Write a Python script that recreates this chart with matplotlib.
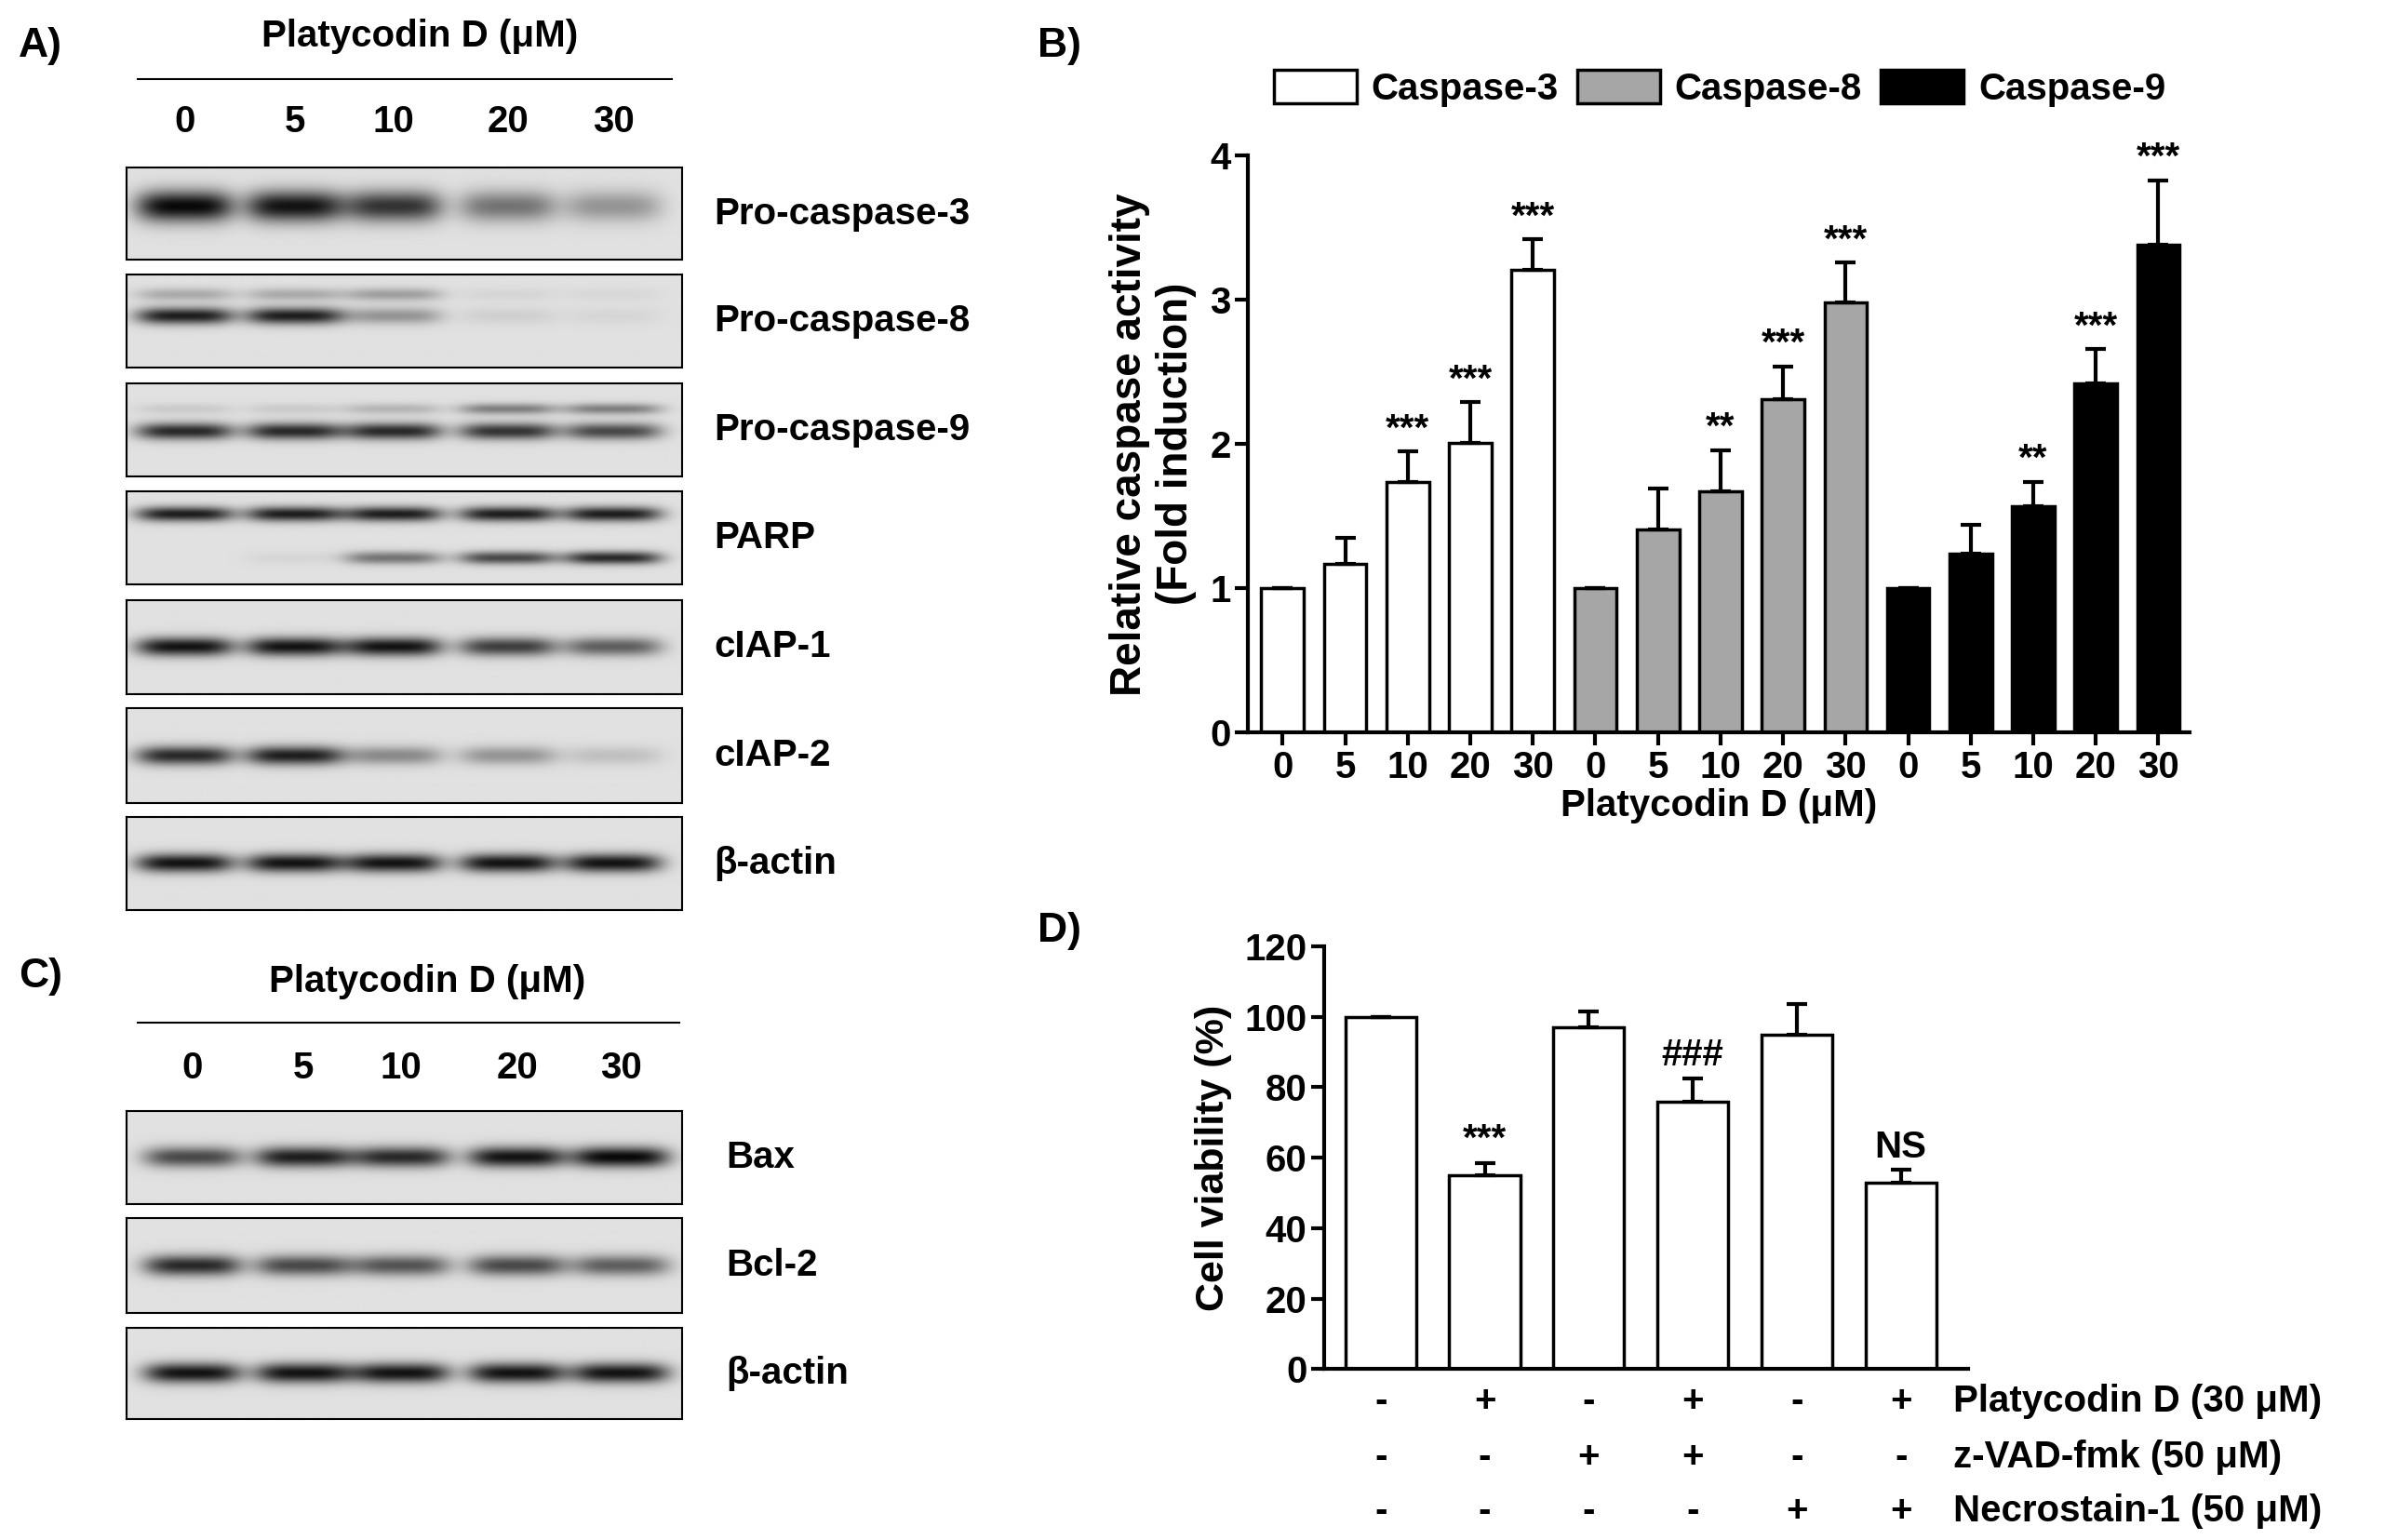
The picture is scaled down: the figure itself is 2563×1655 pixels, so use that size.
import numpy as np
import matplotlib
matplotlib.use("Agg")
import matplotlib.pyplot as plt

plt.rcParams['font.family'] = ['Liberation Sans', 'DejaVu Sans']
plt.rcParams['font.weight'] = 'bold'
plt.rcParams['axes.labelweight'] = 'bold'

W, H = 1563.0, 1009.0
def fx(x): return x / W
def fy(y): return 1 - y / H

FS = 29

# ---- data ----
doses = ['0', '5', '10', '20', '30']
# blot rows: (label, [(ypos, intensities, thickness), ...])
blotsA = [
    ('Pro-caspase-3', [(0.58, [1.0, 0.95, 0.8, 0.5, 0.35], 0.17)]),
    ('Pro-caspase-8', [(0.55, [0.9, 0.9, 0.35, 0.08, 0.05], 0.09),
                       (0.78, [0.25, 0.25, 0.3, 0.05, 0.04], 0.07)]),
    ('Pro-caspase-9', [(0.48, [0.85, 0.85, 0.85, 0.8, 0.7], 0.09),
                       (0.72, [0.1, 0.1, 0.2, 0.45, 0.45], 0.06)]),
    ('PARP', [(0.75, [0.9, 0.9, 0.9, 0.9, 0.9], 0.08),
              (0.28, [0.0, 0.05, 0.5, 0.7, 0.85], 0.07)]),
    ('cIAP-1', [(0.5, [0.95, 0.95, 0.95, 0.75, 0.6], 0.1)]),
    ('cIAP-2', [(0.5, [0.85, 0.9, 0.4, 0.35, 0.15], 0.1)]),
    ('β-actin', [(0.5, [0.95, 0.95, 0.95, 0.95, 0.95], 0.1)]),
]
blotsC = [
    ('Bax', [(0.5, [0.7, 0.9, 0.85, 0.95, 1.0], 0.11)]),
    ('Bcl-2', [(0.5, [0.85, 0.7, 0.65, 0.7, 0.6], 0.11)]),
    ('β-actin', [(0.5, [0.95, 0.95, 0.95, 0.95, 0.95], 0.11)]),
]

casp3 = [1.0, 1.17, 1.74, 2.01, 3.21]
casp3_err = [0, 0.18, 0.21, 0.28, 0.21]
casp8 = [1.0, 1.41, 1.67, 2.31, 2.98]
casp8_err = [0, 0.28, 0.29, 0.23, 0.28]
casp9 = [1.0, 1.24, 1.57, 2.42, 3.38]
casp9_err = [0, 0.2, 0.17, 0.24, 0.45]
stars3 = ['', '', '***', '***', '***']
stars8 = ['', '', '**', '***', '***']
stars9 = ['', '', '**', '***', '***']

viab = [100, 55, 97, 76, 95, 53]
viab_err = [0, 3.5, 4.5, 6.5, 8.5, 3.5]
viab_marks = ['', '***', '', '###', '', 'NS']
pd_row = ['-', '+', '-', '+', '-', '+']
zvad_row = ['-', '-', '+', '+', '-', '-']
nec_row = ['-', '-', '-', '-', '+', '+']
row_labels = ['Platycodin D (30 μM)', 'z-VAD-fmk (50 μM)', 'Necrostain-1 (50 μM)']

fig = plt.figure(figsize=(25.63, 16.55), dpi=100)

def draw_blot(x0, x1, y0, y1, lanes_px, bands):
    ax = fig.add_axes([fx(x0), fy(y1), fx(x1) - fx(x0), fy(y0) - fy(y1)])
    xs = np.linspace(x0, x1, 400)
    ys = np.linspace(0, 1, 120)
    X, Y = np.meshgrid(xs, ys)
    img = np.zeros_like(X)
    for ypos, ints, th in bands:
        for lx, v in zip(lanes_px, ints):
            img += v * np.exp(-((X - lx) / 32.0) ** 4) * np.exp(-((Y - ypos) / th) ** 2)
    img = 0.88 - 0.85 * np.clip(img, 0, 1)
    ax.imshow(img, cmap='gray', vmin=0, vmax=1, aspect='auto', origin='lower',
              extent=[x0, x1, 0, 1])
    ax.set_xticks([]); ax.set_yticks([])
    for s in ax.spines.values():
        s.set_linewidth(1.5)
    return ax

# ---- Panel A ----
lanesA = [121, 193, 258, 333, 402]
rowsA = [(110, 170), (180, 241), (251, 312), (322, 383), (393, 455), (464, 526), (535, 596)]
for (label, bands), (y0, y1) in zip(blotsA, rowsA):
    draw_blot(83, 447, y0, y1, lanesA, bands)
    fig.text(fx(468), fy((y0 + y1) / 2), label, fontsize=FS, va='center', ha='left')
for lx, d in zip(lanesA, doses):
    fig.text(fx(lx), fy(80), d, fontsize=FS, ha='center', va='center')
fig.text(fx(275), fy(24), 'Platycodin D (μM)', fontsize=FS, ha='center', va='center')
fig.add_artist(plt.Line2D([fx(90), fx(440)], [fy(52), fy(52)], color='black', lw=1.5))
fig.text(fx(12), fy(30), 'A)', fontsize=32, ha='left', va='center')

# ---- Panel C ----
lanesC = [126, 199, 263, 339, 407]
rowsC = [(728, 789), (798, 860), (870, 930)]
for (label, bands), (y0, y1) in zip(blotsC, rowsC):
    draw_blot(83, 447, y0, y1, lanesC, bands)
    fig.text(fx(476), fy((y0 + y1) / 2), label, fontsize=FS, va='center', ha='left')
for lx, d in zip(lanesC, doses):
    fig.text(fx(lx), fy(700), d, fontsize=FS, ha='center', va='center')
fig.text(fx(280), fy(643), 'Platycodin D (μM)', fontsize=FS, ha='center', va='center')
fig.add_artist(plt.Line2D([fx(90), fx(445)], [fy(670), fy(670)], color='black', lw=1.5))
fig.text(fx(12), fy(640), 'C)', fontsize=32, ha='left', va='center')

# ---- Panel B ----
axB = fig.add_axes([fx(818), fy(480), fx(1435) - fx(818), fy(102) - fy(480)])
groups = [(casp3, casp3_err, stars3, 'white', 'Caspase-3'),
          (casp8, casp8_err, stars8, '#a6a6a6', 'Caspase-8'),
          (casp9, casp9_err, stars9, 'black', 'Caspase-9')]
handles = []
for g, (vals, errs, stars, col, name) in enumerate(groups):
    xs = np.arange(5) + 5 * g
    b = axB.bar(xs, vals, width=0.68, color=col, edgecolor='black', linewidth=2.5, label=name)
    handles.append(b)
    axB.errorbar(xs, vals, yerr=[np.zeros(5), errs], fmt='none', ecolor='black',
                 elinewidth=3, capsize=8, capthick=3)
    for x, v, e, s in zip(xs, vals, errs, stars):
        if s:
            axB.text(x, v + e + 0.03, s, ha='center', va='bottom', fontsize=FS)
axB.set_xlim(-0.55, 14.5)
axB.set_ylim(0, 4)
axB.set_yticks([0, 1, 2, 3, 4])
axB.set_xticks(np.arange(15))
axB.set_xticklabels(doses * 3)
axB.tick_params(labelsize=FS, width=3, length=10)
for s in ['top', 'right']:
    axB.spines[s].set_visible(False)
for s in ['left', 'bottom']:
    axB.spines[s].set_linewidth(3)
axB.set_ylabel('Relative caspase activity\n(Fold induction)', fontsize=33, labelpad=10)
axB.set_xlabel('Platycodin D (μM)', fontsize=FS, labelpad=2)
fig.legend(handles=handles, loc='lower left', bbox_to_anchor=(fx(825), fy(80)), ncol=3,
           frameon=False, fontsize=FS, handlelength=2.2, handleheight=1.0,
           columnspacing=0.5, handletextpad=0.4, borderaxespad=0)
fig.text(fx(680), fy(30), 'B)', fontsize=32, ha='left', va='center')

# ---- Panel D ----
axD = fig.add_axes([fx(868), fy(897), fx(1290) - fx(868), fy(620) - fy(897)])
xs = np.arange(6)
axD.bar(xs, viab, width=0.68, color='white', edgecolor='black', linewidth=2.5)
axD.errorbar(xs, viab, yerr=[np.zeros(6), viab_err], fmt='none', ecolor='black',
             elinewidth=3, capsize=8, capthick=3)
for x, v, e, s in zip(xs, viab, viab_err, viab_marks):
    if s:
        axD.text(x, v + e + 1.5, s, ha='center', va='bottom', fontsize=FS)
axD.set_xlim(-0.54, 5.65)
axD.set_ylim(0, 120)
axD.set_yticks(np.arange(0, 121, 20))
axD.set_xticks([])
axD.tick_params(labelsize=FS, width=3, length=10)
for s in ['top', 'right']:
    axD.spines[s].set_visible(False)
for s in ['left', 'bottom']:
    axD.spines[s].set_linewidth(3)
axD.set_ylabel('Cell viability (%)', fontsize=31, labelpad=10)
trans = matplotlib.transforms.blended_transform_factory(axD.transData, fig.transFigure)
for row, ypx, lab in zip([pd_row, zvad_row, nec_row], [918, 955, 990], row_labels):
    for x, s in zip(xs, row):
        axD.text(x, fy(ypx), s, transform=trans, fontsize=FS, ha='center', va='center')
    fig.text(fx(1280), fy(ypx), lab, fontsize=FS, ha='left', va='center')
fig.text(fx(680), fy(610), 'D)', fontsize=32, ha='left', va='center')

fig.savefig('out.png', dpi=100)
